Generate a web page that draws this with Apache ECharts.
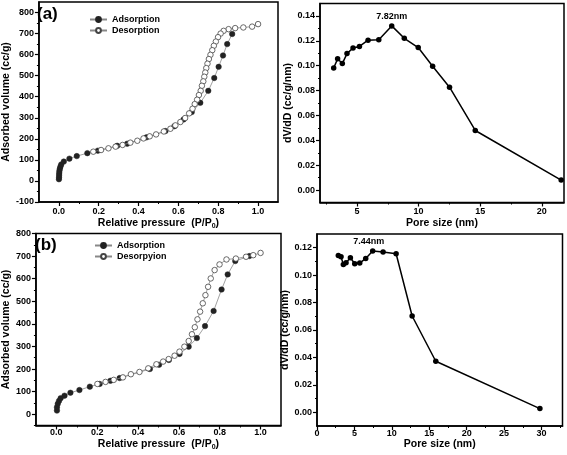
<!DOCTYPE html>
<html><head><meta charset="utf-8">
<script src="https://cdn.jsdelivr.net/npm/echarts@6/dist/echarts.min.js"></script>
<style>html,body{margin:0;padding:0;background:#fff}#c{width:567px;height:455px}</style>
</head><body><div id="c"></div>
<script>
// ---------- DATA ----------
// (a) isotherm
const aAdsX = [0.0005,0.001,0.0015,0.002,0.003,0.005,0.008,0.012,0.025,0.053,0.09,0.143,0.196,0.293,0.343,0.44,0.535,0.58,0.626,0.667,0.71,0.75,0.78,0.802,0.824,0.845,0.87];
const aAdsY = [8,18,28,38,48,58,68,78,92,106,118,132,144,167,177,207,237,260,292,327,371,428,489,542,596,650,698];
const aDesX = [1.0,0.97,0.926,0.885,0.852,0.827,0.812,0.799,0.788,0.778,0.77,0.761,0.753,0.746,0.74,0.735,0.73,0.725,0.718,0.712,0.703,0.694,0.682,0.671,0.654,0.634,0.61,0.585,0.56,0.527,0.488,0.456,0.425,0.394,0.359,0.32,0.285,0.249,0.212,0.173];
const aDesY = [745,733,729,726,721,713,700,683,662,642,621,599,579,557,536,515,495,473,452,428,408,386,365,343,321,299,280,264,248,235,221,212,202,191,182,171,163,155,147,139];
// (a) pore size distribution
const aPoreX = [3.11,3.43,3.81,4.19,4.68,5.2,5.9,6.77,7.82,8.84,9.97,11.14,12.51,14.6,21.57];
const aPoreY = [0.0982,0.1055,0.1017,0.1097,0.1142,0.1155,0.1205,0.1208,0.132,0.122,0.1146,0.0996,0.0827,0.0479,0.008];
const aPeakLabel = '7.82nm';
// (b) isotherm
const bAdsX = [0.003,0.003,0.007,0.013,0.021,0.04,0.069,0.113,0.164,0.212,0.265,0.31,0.458,0.503,0.551,0.603,0.648,0.688,0.728,0.77,0.809,0.839,0.876,0.945];
const bAdsY = [16,31,46,59,71,82,95,107,122,134,148,160,200,219,240,267,299,337,390,457,552,619,678,700];
const bDesX = [1.0,0.964,0.929,0.879,0.833,0.799,0.775,0.756,0.743,0.73,0.717,0.704,0.691,0.678,0.664,0.648,0.627,0.603,0.579,0.55,0.523,0.49,0.45,0.407,0.365,0.326,0.281,0.241,0.201];
const bDesY = [714,704,697,689,685,663,638,601,564,527,491,454,420,385,354,324,299,277,259,244,233,221,203,187,177,163,152,143,134];
// (b) pore size distribution
const bPoreX = [2.85,3.21,3.52,3.88,4.46,5.04,5.71,6.51,7.44,8.83,10.57,12.71,15.87,29.78];
const bPoreY = [0.1144,0.1134,0.1078,0.1091,0.1127,0.1083,0.1088,0.1122,0.1176,0.1168,0.1156,0.0702,0.0372,0.0027];
const bPeakLabel = '7.44nm';
// tick labels
const isoXTicks = [0,0.2,0.4,0.6,0.8,1.0];
const isoXMinor = [0.1,0.3,0.5,0.7,0.9];
const aIsoYTicks = [-100,0,100,200,300,400,500,600,700,800];
const aIsoYMinor = [-50,50,150,250,350,450,550,650,750];
const bIsoYTicks = [0,100,200,300,400,500,600,700,800];
const bIsoYMinor = [-50,50,150,250,350,450,550,650,750];
const aPoreXTicks = [5,10,15,20];
const aPoreXMinor = [2.5,7.5,12.5,17.5];
const aPoreYTicks = [0,0.02,0.04,0.06,0.08,0.10,0.12,0.14];
const aPoreYMinor = [0.01,0.03,0.05,0.07,0.09,0.11,0.13];
const bPoreXTicks = [0,5,10,15,20,25,30];
const bPoreXMinor = [2.5,7.5,12.5,17.5,22.5,27.5,32.5];
const bPoreYTicks = [0,0.02,0.04,0.06,0.08,0.10,0.12];
const bPoreYMinor = [0.01,0.03,0.05,0.07,0.09,0.11];

// ---------- CHART ----------
const FONT = 'Liberation Sans';
const pairs = (xs, ys) => xs.map((x, i) => [x, ys[i]]);

function axisPair(dim, grid, min, max, majors, minors, fmt, name, nameGap, margin) {
  const pos = dim === 'x' ? 'bottom' : 'left';
  const main = {
    type: 'value', gridIndex: grid, min: min, max: max, position: pos,
    axisLine: { show: true, onZero: false, lineStyle: { color: '#000', width: 1.5 } },
    axisTick: { show: true, customValues: majors, length: 4, lineStyle: { color: '#000', width: 1.2 } },
    axisLabel: { show: true, customValues: majors, formatter: fmt, margin: margin,
      fontFamily: FONT, fontWeight: 'bold', fontSize: 9, color: '#000' },
    splitLine: { show: false },
    name: name, nameLocation: 'middle', nameGap: nameGap,
    nameTextStyle: { fontFamily: FONT, fontWeight: 'bold', fontSize: 10.5, color: '#000',
      rich: { sub: { fontFamily: FONT, fontWeight: 'bold', fontSize: 7, color: '#000', verticalAlign: 'bottom', padding: [6, 0, 0, 0] } } }
  };
  const minor = {
    type: 'value', gridIndex: grid, min: min, max: max, position: pos,
    axisLine: { show: false, onZero: false },
    axisTick: { show: true, customValues: minors, length: 2, lineStyle: { color: '#000', width: 1 } },
    axisLabel: { show: false }, splitLine: { show: false }
  };
  return [main, minor];
}
const f1 = v => Number(v).toFixed(1);
const f0 = v => String(Math.round(v));
const f2 = v => Number(v).toFixed(2);

const grids = [
  { left: 35, top: 2, width: 243, height: 200 },
  { left: 320, top: 3.5, width: 244, height: 199 },
  { left: 33, top: 233.5, width: 248, height: 192 },
  { left: 317, top: 234, width: 245.5, height: 192 }
].map(g => Object.assign(g, { show: true, borderColor: '#000', borderWidth: 1.5, containLabel: false }));

const PP = 'Relative pressure  (P/P{sub|0})';
const xAxis = [].concat(
  axisPair('x', 0, -0.1, 1.1, isoXTicks, isoXMinor, f1, PP, 15, 5),
  axisPair('x', 1, 2, 21.8, aPoreXTicks, aPoreXMinor, f0, 'Pore size (nm)', 15, 5),
  axisPair('x', 2, -0.1, 1.1, isoXTicks, isoXMinor, f1, PP, 12, 3),
  axisPair('x', 3, 0, 32.8, bPoreXTicks, bPoreXMinor, f0, 'Pore size (nm)', 13, 3)
);
const yAxis = [].concat(
  axisPair('y', 0, -100, 850, aIsoYTicks, aIsoYMinor, f0, 'Adsorbed volume (cc/g)', 23, 5),
  axisPair('y', 1, -0.01, 0.15, aPoreYTicks, aPoreYMinor, f2, 'dV/dD (cc/g/nm)', 24, 5),
  axisPair('y', 2, -50, 800, bIsoYTicks, bIsoYMinor, f0, 'Adsorbed volume (cc/g)', 21, 5),
  axisPair('y', 3, -0.01, 0.13, bPoreYTicks, bPoreYMinor, f2, 'dV/dD (cc/g/nm)', 23, 5)
);

const adsStyle = (name, xi, data) => ({
  type: 'line', name: name, xAxisIndex: xi, yAxisIndex: xi, data: data,
  symbol: 'circle', symbolSize: 5.5, showSymbol: true, animation: false,
  lineStyle: { color: '#888', width: 0.8 },
  itemStyle: { color: '#222', borderColor: '#222', borderWidth: 0.5 }, z: 2
});
const desStyle = (name, xi, data) => ({
  type: 'line', name: name, xAxisIndex: xi, yAxisIndex: xi, data: data,
  symbol: 'circle', symbolSize: 5.5, showSymbol: true, animation: false,
  lineStyle: { color: '#888', width: 0.8 },
  itemStyle: { color: '#fff', borderColor: '#444', borderWidth: 0.8 }, z: 3
});
function poreSeries(xi, xs, ys, peakText, offset) {
  let pk = 0;
  ys.forEach((v, i) => { if (v > ys[pk]) pk = i; });
  const data = xs.map((x, i) => i === pk ? {
    value: [x, ys[i]],
    label: { show: true, position: 'top', distance: 2, offset: offset, formatter: peakText,
      fontFamily: FONT, fontWeight: 'bold', fontSize: 9, color: '#000' }
  } : [x, ys[i]]);
  return {
    type: 'line', xAxisIndex: xi, yAxisIndex: xi, data: data, animation: false,
    symbol: 'circle', symbolSize: 5.5, showSymbol: true,
    lineStyle: { color: '#000', width: 1.5 }, itemStyle: { color: '#000' }
  };
}

const series = [
  adsStyle('Adsorption', 0, pairs(aAdsX, aAdsY)),
  desStyle('Desorption', 0, pairs(aDesX, aDesY)),
  poreSeries(2, aPoreX, aPoreY, aPeakLabel, [0, 0]),
  adsStyle('Adsorption', 4, pairs(bAdsX, bAdsY)),
  desStyle('Desorpyion', 4, pairs(bDesX, bDesY)),
  poreSeries(6, bPoreX, bPoreY, bPeakLabel, [-4, 0])
];

const legendCommon = {
  orient: 'vertical', itemWidth: 17, itemHeight: 6, itemGap: 2, padding: 0,
  selectedMode: false,
  textStyle: { fontFamily: FONT, fontWeight: 'bold', fontSize: 9, color: '#000' }
};
const legend = [
  Object.assign({ left: 89, top: 15, data: ['Adsorption', 'Desorption'] }, legendCommon),
  Object.assign({ left: 94, top: 241, data: ['Adsorption', 'Desorpyion'] }, legendCommon)
];

const graphic = [
  { type: 'text', left: 37, top: 6, style: { text: '(a)', font: 'bold 17px "Liberation Sans"', fill: '#000' } },
  { type: 'text', left: 35, top: 237, style: { text: '(b)', font: 'bold 17px "Liberation Sans"', fill: '#000' } }
];

const chart = echarts.init(document.getElementById('c'), null, { renderer: 'canvas' });
chart.setOption({ animation: false, grid: grids, xAxis: xAxis, yAxis: yAxis, series: series, legend: legend, graphic: graphic });
</script></body></html>
